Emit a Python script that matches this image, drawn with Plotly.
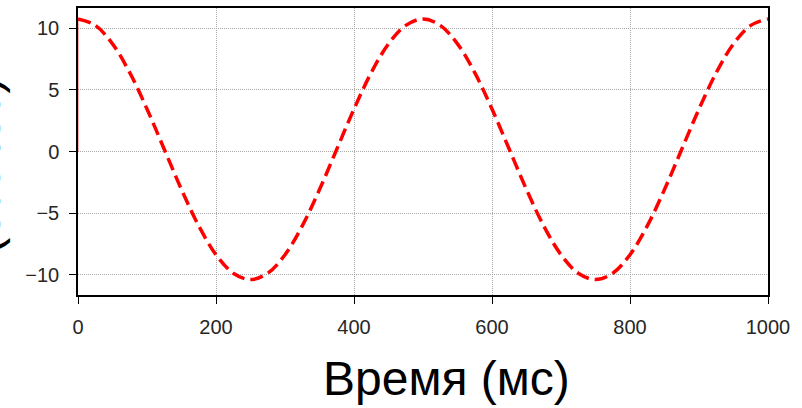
import plotly.graph_objects as go

# Data
time_ms = [0, 25, 50, 75, 100, 125, 150, 175, 200, 225, 250, 275, 300, 325, 350, 375, 400,
           425, 450, 475, 500, 525, 550, 575, 600, 625, 650, 675, 700, 725, 750, 775, 800,
           825, 850, 875, 900, 925, 950, 975, 1000]
signal = [10.76, 10.24, 8.74, 6.40, 3.45, 0.18, -3.09, -6.04, -8.38, -9.88, -10.40, -9.88,
          -8.38, -6.04, -3.09, 0.18, 3.45, 6.40, 8.74, 10.24, 10.76, 10.24, 8.74, 6.40, 3.45,
          0.18, -3.09, -6.04, -8.38, -9.88, -10.40, -9.88, -8.38, -6.04, -3.09, 0.18, 3.45,
          6.40, 8.74, 10.24, 10.76]
start_x = [0, 0]
start_y = [0, 10.76]

x_ticks = [0, 200, 400, 600, 800, 1000]
y_ticks = [-10, -5, 0, 5, 10]
y_tick_text = ["\u221210", "\u22125", "0", "5", "10"]

x_title = "Время (мс)"
y_title = "Амплитуда<br>(отсчёт)"

W, H = 802, 408
L, R, T, B = 78, 34, 6, 113
pw, ph = W - L - R, H - T - B

fig = go.Figure()
fig.add_trace(go.Scatter(x=start_x, y=start_y, mode="lines",
                         line=dict(color="rgba(255,0,0,0.6)", width=1),
                         showlegend=False, hoverinfo="skip"))
fig.add_trace(go.Scatter(x=time_ms, y=signal, mode="lines",
                         line=dict(color="#ff0000", width=3.5, dash="13px,6px", shape="spline"),
                         showlegend=False))

axis_common = dict(showline=True, linecolor="black", linewidth=1.5, mirror=True,
                   ticks="outside", ticklen=7, tickwidth=1.2, tickcolor="black",
                   showgrid=True, gridcolor="#a8a8a8", gridwidth=1, griddash="1px,1px",
                   zeroline=False,
                   tickfont=dict(family="Liberation Sans, Arial", size=20, color="#262626"))

fig.update_xaxes(range=[0, 1000], tickvals=x_ticks, ticklabelstandoff=6, **axis_common)
fig.update_yaxes(range=[-11.65, 11.65], tickvals=y_ticks, ticktext=y_tick_text,
                 ticklabelstandoff=6, **axis_common)

fig.add_annotation(text=x_title, xref="paper", yref="paper",
                   x=(446 - L) / pw, y=(T + ph - 379) / ph, xanchor="center", yanchor="middle",
                   showarrow=False, font=dict(family="Liberation Sans, Arial", size=48, color="black"))
fig.add_annotation(text=y_title, xref="paper", yref="paper", textangle=-90,
                   x=(12 - L) / pw, y=(T + ph - 165) / ph, xanchor="right", yanchor="middle",
                   showarrow=False, font=dict(family="Liberation Sans, Arial", size=48, color="black"))

fig.update_layout(width=W, height=H, margin=dict(l=L, r=R, t=T, b=B),
                  plot_bgcolor="white", paper_bgcolor="white")

fig.write_html("out.html")
